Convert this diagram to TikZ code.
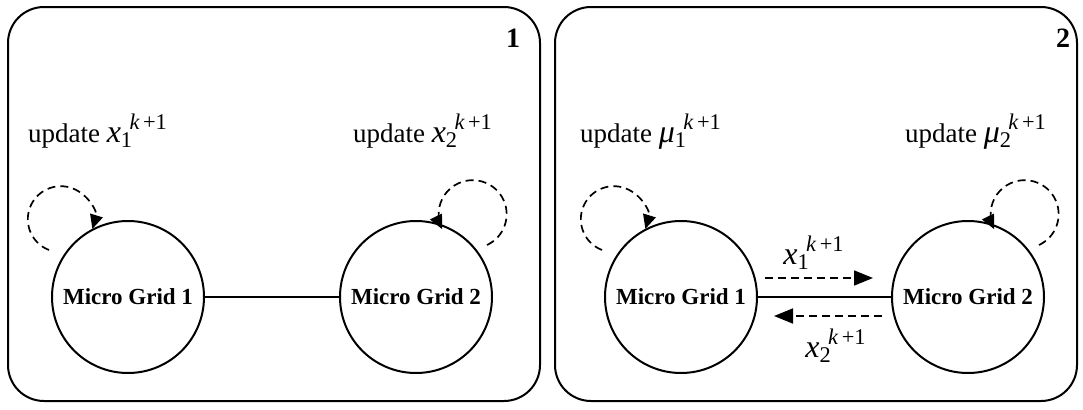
\documentclass[tikz,border=0pt]{standalone}
\usepackage{amsmath}
\usepackage{fontspec}
\setmainfont{Liberation Serif}
\usetikzlibrary{arrows.meta}

\newcommand{\varkk}[2]{{\fontsize{16}{18}\selectfont\textit{#1}$_{\textrm{#2}}{}^{\!\textit{k}\,\textrm{+1}}$}}

\tikzset{
  panel/.style={draw, line width=1pt, rounded corners=18pt},
  panelno/.style={font=\bfseries\fontsize{14}{16}\selectfont},
  grid/.style={draw, circle, line width=1pt, minimum size=76pt, inner sep=0pt,
    font=\bfseries\fontsize{11.5}{13}\selectfont},
  link/.style={line width=0.65pt},
  upd/.style={anchor=base, font=\fontsize{13.5}{16}\selectfont},
  selfloop/.style={dashed, dash pattern=on 4pt off 2.5pt, line width=0.85pt,
    -{Triangle[length=7pt,width=6.5pt]}},
  msg/.style={dashed, dash pattern=on 4pt off 2.5pt, line width=0.85pt,
    -{Triangle[length=9.5pt,width=7.5pt]}}
}

\begin{document}
\begin{tikzpicture}[x=0.5pt,y=0.5pt]
  \useasboundingbox (0,0) rectangle (1083,409);

  % panels
  \draw[panel] (8,8) rectangle (540,402);
  \draw[panel] (555,8) rectangle (1077,402);
  \node[panelno] (no1) at (513,371) {1};
  \node[panelno] (no2) at (1063,371) {2};

  % panel 1
  \node[grid] (mg1) at (128,112) {Micro Grid 1};
  \node[grid] (mg2) at (416,112) {Micro Grid 2};
  \draw[link] (mg1) -- (mg2);

  \node[upd] (u1) at (98,267) {update \varkk{x}{1}};
  \node[upd] (u2) at (423,267) {update \varkk{x}{2}};

  \draw[selfloop] (49,159) arc[start angle=249, end angle=-17, radius=16.5pt];
  \draw[selfloop] (487,164) arc[start angle=-65, end angle=206, radius=17pt];

  % panel 2
  \node[grid] (mg3) at (681,112) {Micro Grid 1};
  \node[grid] (mg4) at (968,112) {Micro Grid 2};
  \draw[link] (mg3) -- (mg4);

  \node[upd] (u3) at (651,267) {update \varkk{μ}{1}};
  \node[upd] (u4) at (976,267) {update \varkk{μ}{2}};

  \draw[selfloop] (602,159) arc[start angle=249, end angle=-17, radius=16.5pt];
  \draw[selfloop] (1039,164) arc[start angle=-65, end angle=206, radius=17pt];

  \draw[msg] ([xshift=3.5pt,yshift=9.5pt]mg3.east) -- ([xshift=-9pt,yshift=9.5pt]mg4.west);
  \draw[msg] ([xshift=-4.5pt,yshift=-9.5pt]mg4.west) -- ([xshift=8pt,yshift=-9.5pt]mg3.east);
  \node (m1) at (814,156) {\varkk{x}{1}};
  \node (m2) at (836,63) {\varkk{x}{2}};
\end{tikzpicture}
\end{document}
